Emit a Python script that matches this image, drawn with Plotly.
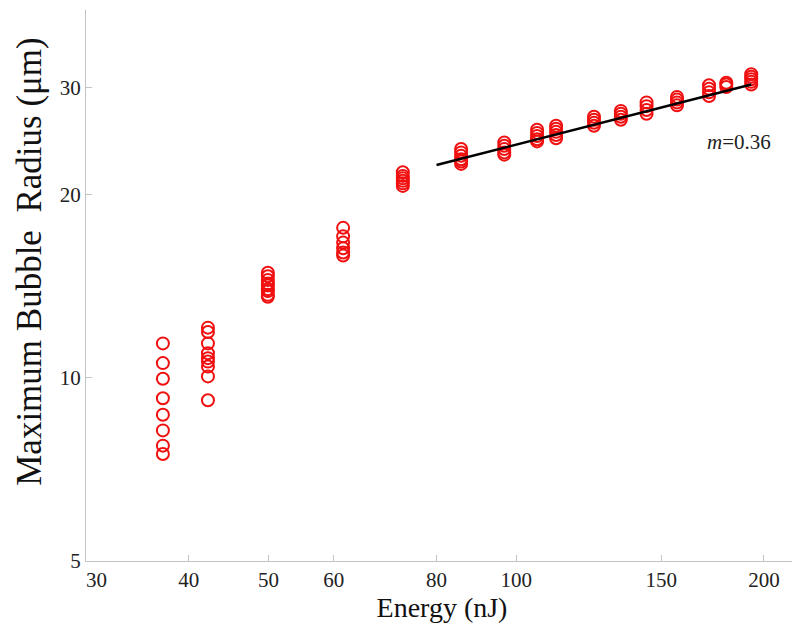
import plotly.graph_objects as go

# energy levels (nJ) and measured maximum bubble radii (um) at each level
energy_levels = [37.2, 42.2, 49.9, 61.6, 72.8, 85.7, 96.7, 106, 111.8,
                 124.3, 134, 144, 156.8, 171.5, 180, 193]
radius_sets = [
    [11.4, 10.58, 9.97, 9.26, 8.70, 8.20, 7.74, 7.50],
    [12.1, 11.9, 11.4, 10.98, 10.78, 10.64, 10.44, 10.06, 9.19],
    [14.9, 14.7, 14.5, 14.3, 14.2, 14.0, 13.9, 13.7, 13.6],
    [17.66, 17.1, 16.7, 16.35, 16.08, 15.9],
    [21.8, 21.5, 21.3, 21.1, 20.9, 20.7],
    [23.8, 23.5, 23.2, 22.9, 22.7, 22.5],
    [24.4, 24.1, 23.8, 23.5, 23.3],
    [25.6, 25.3, 25.0, 24.7, 24.5],
    [26.0, 25.7, 25.4, 25.1, 24.8],
    [26.9, 26.6, 26.3, 26.0],
    [27.5, 27.2, 26.9, 26.6],
    [28.4, 28.0, 27.6, 27.2],
    [29.0, 28.7, 28.4, 28.1],
    [30.3, 29.9, 29.5, 29.1],
    [30.6, 30.4, 30.1],
    [31.6, 31.3, 31.0, 30.7, 30.4],
]

# power-law fit line end points (slope m = 0.36 on log-log axes)
fit_energy = [80, 193]
fit_radius = [22.4, 30.4]

x_ticks = [30, 40, 50, 60, 80, 100, 150, 200]
x_labels = ["\u2007\u200730", "40", "50", "60", "80", "100", "150", "200"]
y_ticks = [5, 10, 20, 30]

xs, ys = [], []
for e, rs in zip(energy_levels, radius_sets):
    for r in rs:
        xs.append(e)
        ys.append(r)

font = "Liberation Serif, Times New Roman, serif"

fig = go.Figure()
fig.add_trace(go.Scatter(
    x=xs, y=ys, mode="markers",
    marker=dict(symbol="circle-open", size=12, color="#f01010",
                line=dict(width=2, color="#f01010")),
    showlegend=False,
))
fig.add_trace(go.Scatter(
    x=fit_energy, y=fit_radius, mode="lines",
    line=dict(color="black", width=2.5),
    showlegend=False,
))

# slope label (log10 coordinates on the log axes)
fig.add_annotation(x=2.271, y=1.389, xref="x", yref="y",
                   text="<i>m</i>=0.36", showarrow=False,
                   font=dict(family=font, size=21, color="#222"))

fig.add_annotation(x=-0.0787, y=0.543, xref="paper", yref="paper",
                   xanchor="center", yanchor="middle",
                   text="Maximum Bubble  Radius (\u03bcm)", textangle=-90,
                   showarrow=False, font=dict(family=font, size=35, color="#111"))

fig.update_xaxes(type="log", range=[1.4771, 2.3424],
                 tickvals=x_ticks, ticktext=x_labels,
                 showline=True, linecolor="#c4c4c4", linewidth=1,
                 ticks="inside", ticklen=6, tickcolor="#c4c4c4",
                 showgrid=False, zeroline=False,
                 tickfont=dict(family=font, size=21, color="#222"),
                 title=dict(text="Energy (nJ)", standoff=6,
                            font=dict(family=font, size=28, color="#111")))
fig.update_yaxes(type="log", range=[0.69897, 1.6053],
                 tickvals=y_ticks, ticktext=[str(v) for v in y_ticks],
                 showline=True, linecolor="#c4c4c4", linewidth=1,
                 ticks="inside", ticklen=6, tickcolor="#c4c4c4",
                 showgrid=False, zeroline=False,
                 tickfont=dict(family=font, size=21, color="#222"))

# page body adds an 8px offset, so the figure is sized/margined to compensate
fig.update_layout(
    width=792, height=631,
    margin=dict(l=78, r=2, t=2, b=78),
    plot_bgcolor="white", paper_bgcolor="white",
)

fig.write_html("out.html")
